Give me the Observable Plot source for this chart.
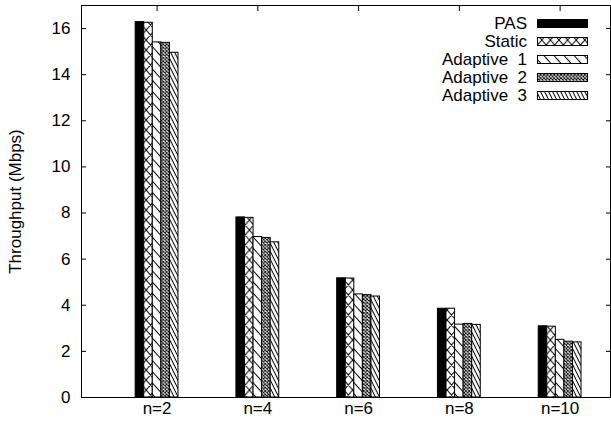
<!DOCTYPE html>
<html>
<head>
<meta charset="utf-8">
<script src="https://cdn.jsdelivr.net/npm/d3@7"></script>
<script src="https://cdn.jsdelivr.net/npm/@observablehq/plot@0.6"></script>
<style>
  html, body { margin: 0; padding: 0; background: #fff; }
  svg { display: block; }
</style>
</head>
<body>
<div id="chart"></div>
<script>
// ---- data ----
const categories = ["n=2", "n=4", "n=6", "n=8", "n=10"];
const seriesNames = ["PAS", "Static", "Adaptive  1", "Adaptive  2", "Adaptive  3"];
const pas       = [16.28, 7.81, 5.17, 3.85, 3.09];
const staticV   = [16.25, 7.79, 5.16, 3.85, 3.07];
const adaptive1 = [15.40, 6.96, 4.47, 3.16, 2.50];
const adaptive2 = [15.38, 6.92, 4.44, 3.19, 2.42];
const adaptive3 = [14.95, 6.73, 4.38, 3.15, 2.39];
const yTicks = [0, 2, 4, 6, 8, 10, 12, 14, 16];

const seriesValues = [pas, staticV, adaptive1, adaptive2, adaptive3];
const fills = ["black", "url(#pStatic)", "url(#pA1)", "url(#pA2)", "url(#pA3)"];

const barW = 0.085;
const groupW = barW * seriesNames.length;
const rows = [];
seriesValues.forEach((vals, j) => {
  vals.forEach((v, i) => {
    const x1 = i - groupW / 2 + j * barW;
    rows.push({series: j, cat: categories[i], value: v, x1, x2: x1 + barW});
  });
});

const W = 611, H = 428;
const FS = 17;
const FONT = "'Liberation Sans', Arial, Helvetica, sans-serif";
const catIdx = categories.map((_, i) => i);

const svg = Plot.plot({
  width: W,
  height: H,
  marginLeft: 81,
  marginRight: 1,
  marginTop: 5,
  marginBottom: 31,
  style: {fontFamily: FONT, fontSize: FS + "px", color: "black", background: "white"},
  x: {type: "linear", domain: [-0.75, 4.5]},
  y: {domain: [0, 17]},
  marks: [
    ...seriesValues.map((_, j) =>
      Plot.rectY(rows.filter(d => d.series === j), {
        x1: "x1", x2: "x2", y: "value",
        fill: fills[j], stroke: "black", strokeWidth: 1
      })
    ),
    Plot.frame({stroke: "black", strokeWidth: 1}),
    Plot.axisY({anchor: "left", ticks: yTicks, tickSize: -5, tickPadding: 16,
      label: "Throughput (Mbps)", labelAnchor: "center", labelArrow: "none", labelOffset: 73, fontSize: FS}),
    Plot.axisY({anchor: "right", ticks: yTicks, tickSize: -5, tickFormat: () => "", label: null}),
    Plot.axisX({anchor: "bottom", ticks: catIdx, tickSize: 0, tickPadding: 4,
      tickFormat: i => categories[i], label: null, fontSize: FS}),
    Plot.axisX({anchor: "top", ticks: catIdx, tickSize: -5, tickFormat: () => "", label: null})
  ]
});

// ---- patterns ----
const defs = d3.select(svg).insert("defs", ":first-child");
function linePattern(id, angle, spacing) {
  const p = defs.append("pattern").attr("id", id)
    .attr("patternUnits", "userSpaceOnUse")
    .attr("width", 10).attr("height", spacing)
    .attr("patternTransform", `rotate(${angle})`);
  p.append("rect").attr("width", 10).attr("height", spacing).attr("fill", "white");
  p.append("line").attr("x1", 0).attr("x2", 10).attr("y1", 0.5).attr("y2", 0.5)
    .attr("stroke", "black").attr("stroke-width", 1);
}
function crossPattern(id, w, h, sw) {
  const p = defs.append("pattern").attr("id", id)
    .attr("patternUnits", "userSpaceOnUse")
    .attr("width", w).attr("height", h);
  p.append("rect").attr("width", w).attr("height", h).attr("fill", "white");
  p.append("path")
    .attr("d", `M0,0L${w},${h}M${w},0L0,${h}M${-w},0L${w},${2*h}M0,${-h}L${2*w},${h}M${2*w},0L0,${2*h}M${w},${-h}L${-w},${h}`)
    .attr("stroke", "black").attr("stroke-width", sw).attr("fill", "none");
}
crossPattern("pStatic", 8.6, 10, 1);
linePattern("pA1", 48, 7.5);
crossPattern("pA2", 3.4, 3.4, 0.9);
linePattern("pA3", 63.4, 3.6);

// ---- legend ----
const lg = d3.select(svg).append("g")
  .attr("font-family", FONT)
  .attr("font-size", FS);
seriesNames.forEach((name, j) => {
  const cy = 23 + j * 18;
  lg.append("text").attr("x", 527).attr("y", cy).attr("dy", "0.35em")
    .attr("text-anchor", "end").attr("fill", "black")
    .style("white-space", "pre").text(name);
  lg.append("rect").attr("x", 537.5).attr("y", cy - 3.5).attr("width", 50).attr("height", 8)
    .attr("fill", fills[j]).attr("stroke", "black").attr("stroke-width", 1);
});

document.getElementById("chart").appendChild(svg);
</script>
</body>
</html>
